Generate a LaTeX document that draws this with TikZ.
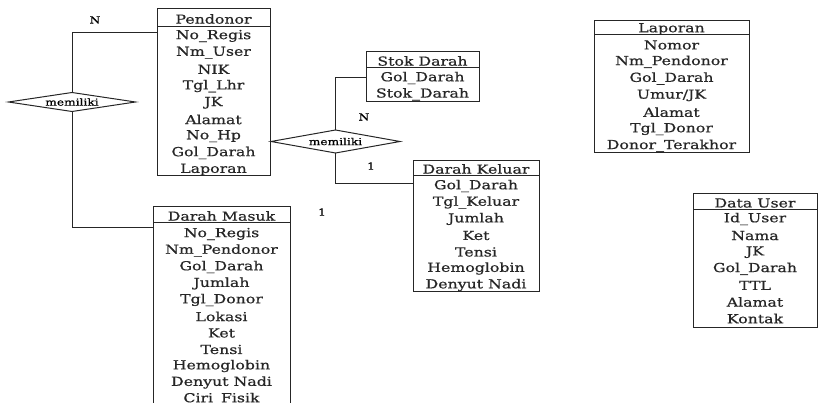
\documentclass[tikz,border=0pt]{standalone}
\usepackage{fontspec}
\setmainfont[FakeStretch=1.27,FakeBold=0.7]{DejaVu Serif}
\usetikzlibrary{shapes.geometric}
\begin{document}
\begin{tikzpicture}[x=1pt,y=-1pt,
  entity/.style={draw=black!85,line width=1pt,rectangle,inner sep=0pt,outer sep=0pt,anchor=north west},
  attr/.style={font=\fontsize{12.4}{14}\selectfont,text=black!85,inner sep=0pt,anchor=center,yshift=-1pt},
  rel/.style={draw=black!85,line width=1pt,diamond,aspect=5.6,inner sep=0pt,outer sep=0pt,font=\fontsize{9.6}{11}\selectfont},
  lbl/.style={font=\fontsize{9.8}{11}\selectfont,inner sep=0pt},
  conn/.style={draw=black!85,line width=1pt}]
\clip (0,0) rectangle (819,403);
% Pendonor
\node[entity,minimum width=113pt,minimum height=167pt] (pend) at (157,9) {};
\node[attr] (pendh) at (213.5,18) {Pendonor};
\draw[conn] ([yshift=-18pt]pend.north west) -- ([yshift=-18pt]pend.north east);
\foreach \t [count=\i from 0] in {No\_Regis,Nm\_User,NIK,Tgl\_Lhr,JK,Alamat,No\_Hp,Gol\_Darah,Laporan}
  \node[attr] (pend-\i) at (213.5,35+16.7*\i) {\t};
% Darah Masuk
\node[entity,minimum width=137pt,minimum height=220pt] (masuk) at (153,207) {};
\node[attr] (masukh) at (221.5,215) {Darah Masuk};
\draw[conn] ([yshift=-16pt]masuk.north west) -- ([yshift=-16pt]masuk.north east);
\foreach \t [count=\i from 0] in {No\_Regis,Nm\_Pendonor,Gol\_Darah,Jumlah,Tgl\_Donor,Lokasi,Ket,Tensi,Hemoglobin,Denyut Nadi,Ciri\_Fisik}
  \node[attr] (masuk-\i) at (221.5,233+16.5*\i) {\t};
% Stok Darah
\node[entity,minimum width=113pt,minimum height=50pt] (stok) at (366,52) {};
\node[attr] (stokh) at (422.5,60) {Stok Darah};
\draw[conn] ([yshift=-16pt]stok.north west) -- ([yshift=-16pt]stok.north east);
\foreach \t [count=\i from 0] in {Gol\_Darah,Stok\_Darah}
  \node[attr] (stok-\i) at (422.5,77+16.3*\i) {\t};
% Darah Keluar
\node[entity,minimum width=126pt,minimum height=131pt] (keluar) at (413,161) {};
\node[attr] (keluarh) at (476,168) {Darah Keluar};
\draw[conn] ([yshift=-15pt]keluar.north west) -- ([yshift=-15pt]keluar.north east);
\foreach \t [count=\i from 0] in {Gol\_Darah,Tgl\_Keluar,Jumlah,Ket,Tensi,Hemoglobin,Denyut Nadi}
  \node[attr] (keluar-\i) at (476,185+16.5*\i) {\t};
% Laporan
\node[entity,minimum width=155pt,minimum height=132pt] (lap) at (594,21) {};
\node[attr] (laph) at (671.5,28) {Laporan};
\draw[conn] ([yshift=-14pt]lap.north west) -- ([yshift=-14pt]lap.north east);
\foreach \t [count=\i from 0] in {Nomor,Nm\_Pendonor,Gol\_Darah,Umur/JK,Alamat,Tgl\_Donor,Donor\_Terakhor}
  \node[attr] (lap-\i) at (671.5,44+16.8*\i) {\t};
% Data User
\node[entity,minimum width=124pt,minimum height=133pt] (user) at (693,194) {};
\node[attr] (userh) at (755,202) {Data User};
\draw[conn] ([yshift=-16pt]user.north west) -- ([yshift=-16pt]user.north east);
\foreach \t [count=\i from 0] in {Id\_User,Nama,JK,Gol\_Darah,TTL,Alamat,Kontak}
  \node[attr] (user-\i) at (755,218+16.6*\i) {\t};
% Relationships
\node[rel,minimum width=127pt,minimum height=19pt] (d1) at (72,102) {memiliki};
\node[rel,minimum width=129pt,minimum height=23pt] (d2) at (335.5,141.5) {memiliki};
% Connectors
\draw[conn] ([yshift=-24pt]pend.north west) -| (d1.north);
\draw[conn] (d1.south) |- ([yshift=-21pt]masuk.north west);
\draw[conn] (d2.north) |- ([yshift=-26pt]stok.north west);
\draw[conn] (d2.south) |- ([yshift=-23pt]keluar.north west);
\draw[conn] (d2.west) -- (pend.east |- d2.west);
% Cardinality labels
\node[lbl] (n1) at (95,20) {N};
\node[lbl] (n2) at (364,117) {N};
\node[lbl] (o1) at (371,166) {1};
\node[lbl] (o2) at (322,212) {1};
\end{tikzpicture}
\end{document}
